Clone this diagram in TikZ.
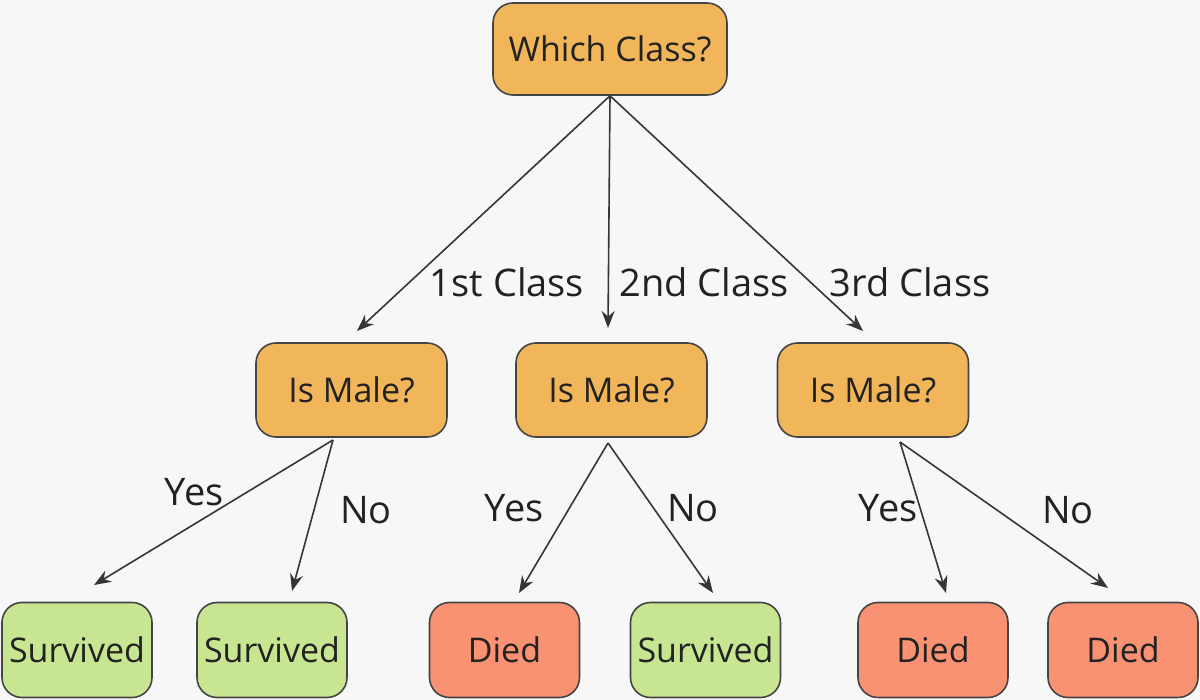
\documentclass[tikz,border=0pt]{standalone}
\usepackage{fontspec}
\setmainfont{Open Sans}
\usetikzlibrary{arrows.meta}
\definecolor{bg}{HTML}{F7F7F7}
\definecolor{orangebox}{HTML}{F2B65A}
\definecolor{greenbox}{HTML}{C8E691}
\definecolor{redbox}{HTML}{F99273}
\definecolor{edge}{HTML}{444444}
\definecolor{txt}{HTML}{222222}
\begin{document}
\begin{tikzpicture}[x=1pt,y=-1pt,
  box/.style={draw=edge,line width=1.6pt,rounded corners=20pt,inner sep=0pt,
    font=\fontsize{34}{37}\selectfont,text=txt,anchor=center},
  qbox/.style={box,fill=orangebox},
  gbox/.style={box,fill=greenbox,minimum width=150pt,minimum height=95pt},
  rbox/.style={box,fill=redbox,minimum width=150pt,minimum height=95pt},
  conn/.style={draw=edge!80!black,line width=1.6pt,-{Stealth[length=17pt,width=13pt]}},
  lbl/.style={font=\fontsize{38}{41}\selectfont,text=txt,inner sep=0pt}]
\useasboundingbox[fill=bg] (0,0) rectangle (1200,700);
\node[qbox,minimum width=234pt,minimum height=92pt] (top) at (610,49) {Which Class?};
\node[qbox,minimum width=191pt,minimum height=94pt] (m1) at (351.5,390) {Is Male?};
\node[qbox,minimum width=191pt,minimum height=94pt] (m2) at (611.5,390) {Is Male?};
\node[qbox,minimum width=191pt,minimum height=94pt] (m3) at (873,390) {Is Male?};
\node[gbox] (b1) at (77,650) {Survived};
\node[gbox] (b2) at (272,650) {Survived};
\node[rbox] (b3) at (504.5,650) {Died};
\node[gbox] (b4) at (705.5,650) {Survived};
\node[rbox] (b5) at (933,650) {Died};
\node[rbox] (b6) at (1123,650) {Died};
% connector ends
\coordinate (t1) at (357,331);
\coordinate (t2) at (608,328);
\coordinate (t3) at (863,331);
\coordinate (s1) at (333,440);
\coordinate (s2) at (608,443);
\coordinate (s3) at (900,442);
\coordinate (e1) at (94,585);
\coordinate (e2) at (292,591);
\coordinate (e3) at (519,593);
\coordinate (e4) at (713,593);
\coordinate (e5) at (946,593);
\coordinate (e6) at (1108,588);
\draw[conn] (top.south) -- (t1);
\draw[conn] (top.south) -- (t2);
\draw[conn] (top.south) -- (t3);
\draw[conn] (s1) -- (e1);
\draw[conn] (s1) -- (e2);
\draw[conn] (s2) -- (e3);
\draw[conn] (s2) -- (e4);
\draw[conn] (s3) -- (e5);
\draw[conn] (s3) -- (e6);
\node[lbl] (l1) at (507,282) {1st Class};
\node[lbl] (l2) at (704,282) {2nd Class};
\node[lbl] (l3) at (910,282) {3rd Class};
\node[lbl] (y1) at (194,492) {Yes};
\node[lbl] (n1) at (366,510) {No};
\node[lbl] (y2) at (514,508) {Yes};
\node[lbl] (n2) at (693,508) {No};
\node[lbl] (y3) at (888,508) {Yes};
\node[lbl] (n3) at (1068,510) {No};
\end{tikzpicture}
\end{document}
